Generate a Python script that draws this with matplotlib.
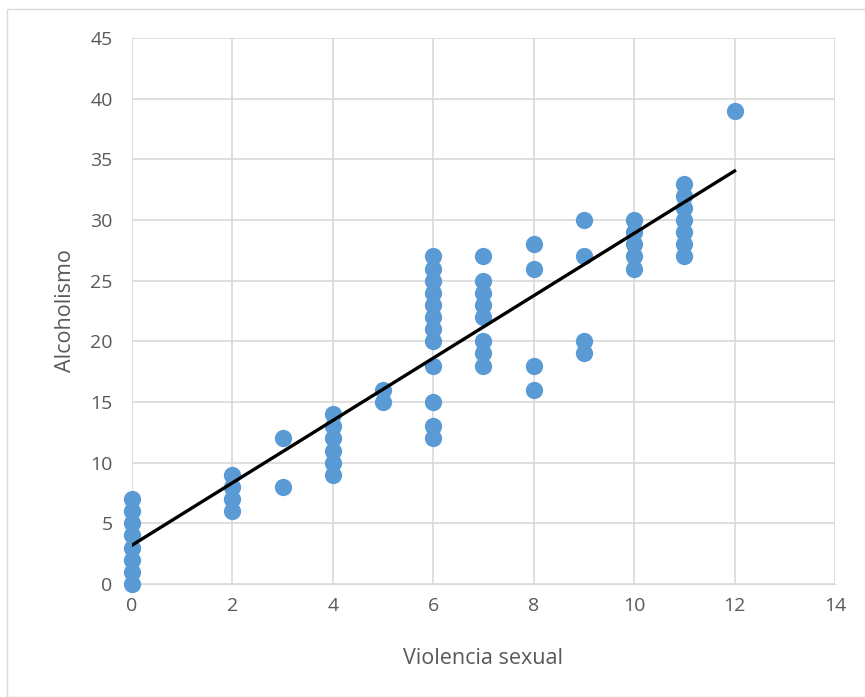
import numpy as np
import matplotlib
matplotlib.use("Agg")
import matplotlib.pyplot as plt
from matplotlib.patches import Rectangle

# violencia sexual (x) -> alcoholismo (y) values
violencia = [0, 0, 0, 0, 0, 0, 0, 0,
             2, 2, 2, 2,
             3, 3,
             4, 4, 4, 4, 4, 4,
             5, 5,
             6, 6, 6, 6, 6, 6, 6, 6, 6, 6, 6, 6,
             7, 7, 7, 7, 7, 7, 7, 7,
             8, 8, 8, 8,
             9, 9, 9, 9,
             10, 10, 10, 10, 10,
             11, 11, 11, 11, 11, 11, 11,
             12]
alcoholismo = [0, 1, 2, 3, 4, 5, 6, 7,
               6, 7, 8, 9,
               8, 12,
               9, 10, 11, 12, 13, 14,
               15, 16,
               12, 13, 15, 18, 20, 21, 22, 23, 24, 25, 26, 27,
               18, 19, 20, 22, 23, 24, 25, 27,
               16, 18, 26, 28,
               19, 20, 27, 30,
               26, 27, 28, 29, 30,
               27, 28, 29, 30, 31, 32, 33,
               39]

# linear trendline as shown in the chart
trend_intercept = 3.2
trend_slope = 2.57

plt.rcParams['font.family'] = ['Open Sans', 'DejaVu Sans']

fig = plt.figure(figsize=(8.65, 6.97), dpi=100)
ax = fig.add_axes([0.1526, 0.1621, 0.8127, 0.7834])

fig.patches.append(Rectangle((7 / 865, 0), 1, 1 - 9 / 697, transform=fig.transFigure,
                             fill=False, edgecolor='#D9D9D9', linewidth=1))

ax.scatter(violencia, alcoholismo, s=155, color='#5B9BD5', zorder=3, linewidths=0,
           clip_on=False)

xt = np.array([min(violencia), max(violencia)])
ax.plot(xt, trend_intercept + trend_slope * xt, color='black', linewidth=2.4, zorder=4)

ax.set_xlim(0, 14)
ax.set_ylim(0, 45)
ax.set_xticks(range(0, 15, 2))
ax.set_yticks(range(0, 46, 5))
ax.grid(True, color='#D9D9D9', linewidth=1.2, zorder=0)
ax.set_axisbelow(True)
for s in ['top', 'right', 'left']:
    ax.spines[s].set_visible(False)
ax.spines['bottom'].set_color('#D9D9D9')
ax.tick_params(length=0, labelsize=14, colors='#595959')
ax.tick_params(axis='y', pad=14)
ax.tick_params(axis='x', pad=9)

ax.set_xlabel('Violencia sexual', fontsize=15.5, color='#595959', labelpad=24)
ax.set_ylabel('Alcoholismo', fontsize=15.5, color='#595959', labelpad=10)

fig.savefig('out.png', dpi=100)
